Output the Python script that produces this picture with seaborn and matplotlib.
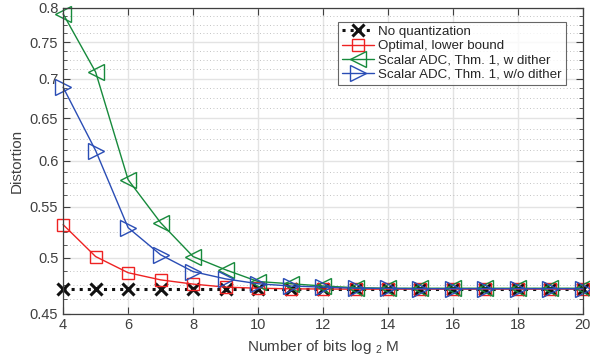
import numpy as np
import pandas as pd
import matplotlib
matplotlib.use("Agg")
import matplotlib.pyplot as plt
from matplotlib.ticker import FixedLocator, NullFormatter, FuncFormatter
import seaborn as sns

# data
bits = list(range(4, 21))
no_quant = [0.471] * 17
optimal = [0.532, 0.501, 0.486, 0.4795, 0.4757, 0.473, 0.472, 0.4715, 0.4713, 0.4712,
           0.4712, 0.4712, 0.4712, 0.4712, 0.4712, 0.4712, 0.4712]
w_dither = [0.791, 0.709, 0.579, 0.534, 0.501, 0.4887, 0.478, 0.476, 0.474, 0.4725,
            0.472, 0.472, 0.472, 0.472, 0.472, 0.472, 0.472]
wo_dither = [0.689, 0.6116, 0.529, 0.5027, 0.487, 0.4804, 0.476, 0.474, 0.473, 0.472,
             0.4718, 0.4716, 0.4716, 0.4716, 0.4716, 0.4716, 0.4716]
labels = ["No quantization", "Optimal, lower bound",
          "Scalar ADC, Thm. 1, w dither", "Scalar ADC, Thm. 1, w/o dither"]
y_ticks = [0.45, 0.5, 0.55, 0.6, 0.65, 0.7, 0.75, 0.8]
x_ticks = list(range(4, 21, 2))

sns.set_style("ticks")
plt.rcParams["font.family"] = ["Liberation Sans", "DejaVu Sans"]
plt.rcParams["mathtext.default"] = "regular"

fig = plt.figure(figsize=(5.9, 3.58), dpi=100)
ax = fig.add_axes([0.107, 0.124, 0.881, 0.854])

styles = [
    dict(color="#111111", marker="x", ms=8, mew=2.2, lw=2.2, ls=":"),
    dict(color="#ee2222", marker="s", ms=8, mew=1.0, lw=1.0, ls="-"),
    dict(color="#178a3c", marker="<", ms=12, mew=1.0, lw=1.0, ls="-"),
    dict(color="#2a4db5", marker=">", ms=12, mew=1.0, lw=1.0, ls="-"),
]

for vals, lab, st in zip([no_quant, optimal, w_dither, wo_dither], labels, styles):
    df = pd.DataFrame({"bits": bits, "dist": vals})
    sns.lineplot(data=df, x="bits", y="dist", ax=ax, label=lab,
                 color=st["color"], marker=st["marker"], markersize=st["ms"],
                 markeredgewidth=st["mew"], linewidth=st["lw"], linestyle=st["ls"],
                 markerfacecolor="none", markeredgecolor=st["color"], clip_on=False)

ax.set_yscale("log")
ax.set_xlim(4, 20)
ax.set_ylim(0.45, 0.8)
ax.yaxis.set_major_locator(FixedLocator(y_ticks))
ax.yaxis.set_major_formatter(FuncFormatter(lambda v, p: f"{v:g}"))
ax.yaxis.set_minor_locator(FixedLocator(list(np.arange(0.45, 0.8001, 0.0125))))
ax.yaxis.set_minor_formatter(NullFormatter())
ax.xaxis.set_major_locator(FixedLocator(x_ticks))

ax.grid(True, which="major", color="#e3e3e3", lw=1.0, ls="-")
ax.grid(True, which="minor", axis="y", color="#b0b0b0", lw=0.6, ls=(0, (1, 3)))
ax.set_axisbelow(True)

ax.tick_params(which="both", direction="in", top=True, right=True, colors="#404040",
               labelsize=10.5, labelcolor="#404040")
ax.tick_params(which="major", length=5)
ax.tick_params(which="minor", length=3, top=False)
for sp in ax.spines.values():
    sp.set_color("#404040")
    sp.set_linewidth(0.9)

ax.set_xlabel("Number of bits log $_2$ M", fontsize=11, color="#404040")
ax.set_ylabel("Distortion", fontsize=11, color="#404040")

leg = ax.legend(loc="upper right", bbox_to_anchor=(0.975, 0.968), fontsize=9.6,
                frameon=True, fancybox=False, edgecolor="#404040",
                handlelength=2.4, handletextpad=0.3, borderpad=0.3, labelspacing=0.15,
                borderaxespad=0.3)
leg.get_frame().set_linewidth(0.8)

fig.savefig("out.png", dpi=100)
